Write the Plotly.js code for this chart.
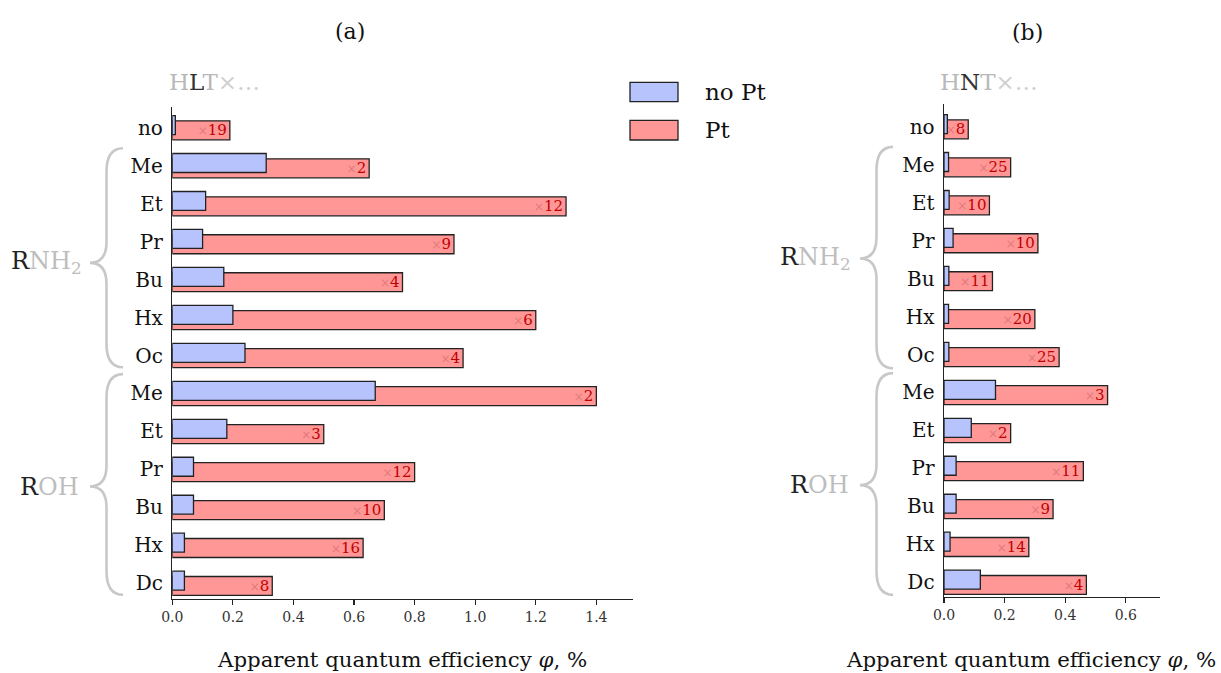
<!DOCTYPE html>
<html>
<head>
<meta charset="utf-8">
<script src="https://cdn.plot.ly/plotly-3.0.1.min.js"></script>
<style>html,body{margin:0;padding:0;background:#fff;}</style>
</head>
<body>
<div id="chart" style="width:1221px;height:673px;"></div>
<script>
// ---- data ----
const categories = ['no','Me','Et','Pr','Bu','Hx','Oc','Me','Et','Pr','Bu','Hx','Dc'];
const seriesNames = ['no Pt', 'Pt'];
const groupLabels = ['R<span style="color:#bdbdbd">NH<sub>2</sub></span>', 'R<span style="color:#bdbdbd">OH</span>'];
const panelTitles = ['(a)', '(b)'];
const panelHeads = ['<span style="color:#b8b8b8">H</span>L<span style="color:#b8b8b8">T</span><span style="color:#cfcfcf">×…</span>',
                    '<span style="color:#b8b8b8">H</span>N<span style="color:#b8b8b8">T</span><span style="color:#cfcfcf">×…</span>'];
const xTitle = 'Apparent quantum efficiency <i>φ</i>, %';

const a_noPt  = [0.01, 0.31, 0.11, 0.10, 0.17, 0.20, 0.24, 0.67, 0.18, 0.07, 0.07, 0.04, 0.04];
const a_Pt    = [0.19, 0.65, 1.30, 0.93, 0.76, 1.20, 0.96, 1.40, 0.50, 0.80, 0.70, 0.63, 0.33];
const a_ratio = [19, 2, 12, 9, 4, 6, 4, 2, 3, 12, 10, 16, 8];

const b_noPt  = [0.011, 0.015, 0.017, 0.03, 0.016, 0.015, 0.016, 0.17, 0.09, 0.04, 0.04, 0.02, 0.12];
const b_Pt    = [0.08, 0.22, 0.15, 0.31, 0.16, 0.30, 0.38, 0.54, 0.22, 0.46, 0.36, 0.28, 0.47];
const b_ratio = [8, 25, 10, 10, 11, 20, 25, 3, 2, 11, 9, 14, 4];

// ---- styling ----
const W = 1221, H = 673;
const FONT = 'DejaVu Serif';
const BLUE = '#b7c3fd', RED = '#ff9797', EDGE = '#222';
const px = x => x / W;
const py = y => 1 - y / H;
const rows = categories.map((_, i) => i);

function ratioText(r) {
  return r.map(v => '<span style="color:#e27a7a;font-size:12px">×</span>' + v);
}

function makeTraces(noPt, pt, ratio, xa, ya) {
  return [
    {
      type: 'bar', orientation: 'h', name: seriesNames[1],
      x: pt, y: rows, xaxis: xa, yaxis: ya,
      width: 0.5, offset: -0.18,
      marker: {color: RED, line: {color: EDGE, width: 1.3}},
      text: ratioText(ratio), textposition: 'inside', insidetextanchor: 'end',
      textangle: 0, constraintext: 'none',
      textfont: {family: FONT, size: 15, color: '#c00000'},
      showlegend: false, hoverinfo: 'x+name'
    },
    {
      type: 'bar', orientation: 'h', name: seriesNames[0],
      x: noPt, y: rows, xaxis: xa, yaxis: ya,
      width: 0.5, offset: -0.32,
      marker: {color: BLUE, line: {color: EDGE, width: 1.3}},
      showlegend: false, hoverinfo: 'x+name'
    }
  ];
}

const data = [
  ...makeTraces(a_noPt, a_Pt, a_ratio, 'x', 'y'),
  ...makeTraces(b_noPt, b_Pt, b_ratio, 'x2', 'y2')
];

const xCommon = {
  showgrid: false, zeroline: false, showline: true, linecolor: EDGE, linewidth: 1.4,
  ticks: 'outside', ticklen: 5, tickwidth: 1.2, tickcolor: EDGE,
  dtick: 0.2, tick0: 0, tickformat: '.1f',
  tickfont: {family: FONT, size: 14, color: '#333'}
};
const yCommon = {
  showgrid: false, zeroline: false, showline: true, linecolor: EDGE, linewidth: 1.4,
  ticks: '', tickvals: rows, ticktext: categories, ticklabelstandoff: 4,
  tickfont: {family: FONT, size: 20, color: '#111'}
};

function brace(yref, xe, xv, xt, top, tip, bot) {
  const r = 0.62, rt = 0.55;
  return {
    type: 'path', xref: 'paper', yref: yref,
    path: `M${px(xe)},${top} Q${px(xv)},${top} ${px(xv)},${top + r} L${px(xv)},${tip - rt} ` +
          `Q${px(xv)},${tip} ${px(xt)},${tip} Q${px(xv)},${tip} ${px(xv)},${tip + rt} ` +
          `L${px(xv)},${bot - r} Q${px(xv)},${bot} ${px(xe)},${bot}`,
    line: {color: '#c8c8c8', width: 2.6}
  };
}

const shapes = [
  brace('y', 123, 106.5, 90, 0.54, 3.56, 6.31),
  brace('y', 123, 106.5, 90, 6.49, 9.45, 12.3),
  brace('y2', 893, 876.5, 860, 0.53, 3.47, 6.36),
  brace('y2', 893, 876.5, 860, 6.49, 9.44, 12.33),
  // legend swatches
  {type: 'rect', xref: 'paper', yref: 'paper', x0: px(630), x1: px(678), y0: py(101.7), y1: py(82.3),
   fillcolor: BLUE, line: {color: EDGE, width: 1.3}},
  {type: 'rect', xref: 'paper', yref: 'paper', x0: px(630), x1: px(678), y0: py(140), y1: py(120.3),
   fillcolor: RED, line: {color: EDGE, width: 1.3}}
];

function ann(text, x, y, opts) {
  return Object.assign({text: text, x: px(x), y: py(y), xref: 'paper', yref: 'paper',
    showarrow: false, font: {family: FONT, size: 22, color: '#111'}}, opts || {});
}

const annotations = [
  ann(panelTitles[0], 350, 31, {xanchor: 'center', yanchor: 'middle', font: {family: FONT, size: 22, color: '#111'}}),
  ann(panelTitles[1], 1027, 32, {xanchor: 'center', yanchor: 'middle', font: {family: FONT, size: 22, color: '#111'}}),
  ann(panelHeads[0], 167, 82, {xanchor: 'left', yanchor: 'middle', font: {family: FONT, size: 23, color: '#333'}}),
  ann(panelHeads[1], 938, 82, {xanchor: 'left', yanchor: 'middle', font: {family: FONT, size: 23, color: '#333'}}),
  ann(seriesNames[0], 703, 92, {xanchor: 'left', yanchor: 'middle', font: {family: FONT, size: 23, color: '#111'}}),
  ann(seriesNames[1], 703, 130, {xanchor: 'left', yanchor: 'middle', font: {family: FONT, size: 23, color: '#111'}}),
  ann(xTitle, 402, 659, {xanchor: 'center', yanchor: 'middle', font: {family: FONT, size: 21.3, color: '#111'}}),
  ann(xTitle, 1218, 659, {xanchor: 'right', yanchor: 'middle', font: {family: FONT, size: 21.3, color: '#111'}}),
  // group labels (tied to row positions)
  {text: groupLabels[0], xref: 'paper', yref: 'y', x: px(84), y: 3.56, xanchor: 'right', yanchor: 'middle',
   showarrow: false, font: {family: FONT, size: 24, color: '#222'}},
  {text: groupLabels[1], xref: 'paper', yref: 'y', x: px(81), y: 9.45, xanchor: 'right', yanchor: 'middle',
   showarrow: false, font: {family: FONT, size: 24, color: '#222'}},
  {text: groupLabels[0], xref: 'paper', yref: 'y2', x: px(853), y: 3.47, xanchor: 'right', yanchor: 'middle',
   showarrow: false, font: {family: FONT, size: 24, color: '#222'}},
  {text: groupLabels[1], xref: 'paper', yref: 'y2', x: px(851), y: 9.44, xanchor: 'right', yanchor: 'middle',
   showarrow: false, font: {family: FONT, size: 24, color: '#222'}}
];

const layout = {
  width: W, height: H,
  margin: {l: 0, r: 0, t: 0, b: 0},
  paper_bgcolor: '#fff', plot_bgcolor: '#fff',
  barmode: 'overlay', showlegend: false,
  xaxis: Object.assign({}, xCommon, {domain: [px(172.3), px(632.7)], range: [0, 1.52], anchor: 'y'}),
  yaxis: Object.assign({}, yCommon, {domain: [py(598.7), py(107)], range: [12.405, -0.545], anchor: 'x'}),
  xaxis2: Object.assign({}, xCommon, {domain: [px(944), px(1160)], range: [0, 0.713], anchor: 'y2'}),
  yaxis2: Object.assign({}, yCommon, {domain: [py(596.7), py(104)], range: [12.379, -0.598], anchor: 'x2'}),
  shapes: shapes,
  annotations: annotations
};

Plotly.newPlot('chart', data, layout, {displayModeBar: false, staticPlot: true});
</script>
</body>
</html>
